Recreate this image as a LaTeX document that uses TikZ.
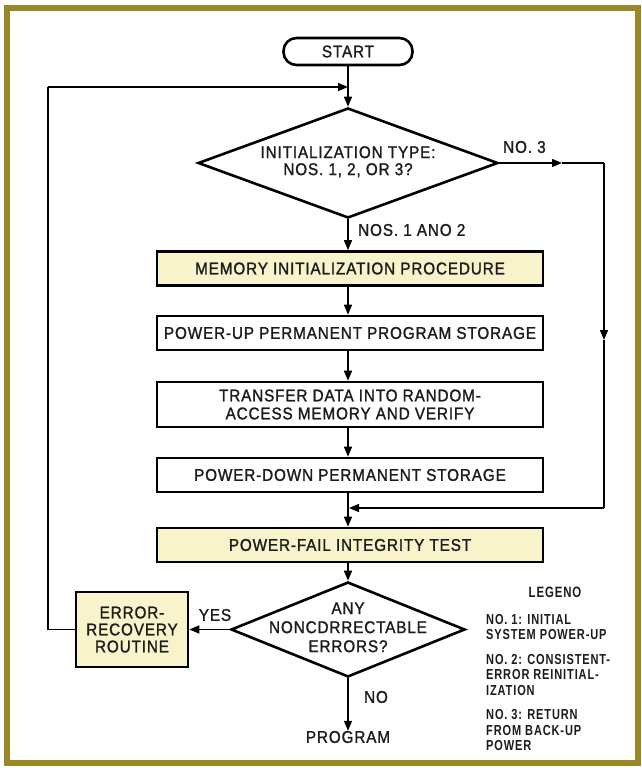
\documentclass[tikz,border=0pt]{standalone}
\usepackage{fontspec}
\setmainfont{Liberation Sans}[LetterSpace=5,FakeBold=1.3,FakeStretch=0.9]
\newfontfamily\legendfont{Liberation Sans Bold}[FakeStretch=0.76,LetterSpace=6]
\usetikzlibrary{arrows.meta,shapes.geometric}

\definecolor{frameolive}{RGB}{152,136,40}
\definecolor{boxyellow}{RGB}{248,243,202}
\definecolor{ink}{RGB}{28,28,28}

\begin{document}
\begin{tikzpicture}[x=1pt,y=-1pt,
  every node/.style={text=ink, font=\fontsize{17}{18}\selectfont},
  proc/.style={draw=black, line width=2.6pt, rectangle, fill=white,
    minimum width=386pt, minimum height=34pt, inner sep=0pt, align=center},
  hilite/.style={proc, fill=boxyellow},
  decision/.style={draw=black, line width=2.6pt, diamond, aspect=2.5,
    inner sep=0pt, fill=white},
  terminal/.style={draw=black, line width=2.6pt, rectangle, rounded corners=13pt,
    minimum width=129pt, minimum height=27pt, inner sep=0pt},
  flow/.style={draw=black, line width=1.4pt},
  tip/.style={-{Triangle[length=10pt,width=8pt]}},
  lbl/.style={inner sep=0pt},
  legend/.style={inner sep=0pt, align=left,
    font=\legendfont\fontsize{14.5}{15.5}\selectfont}
]
% page and frame
\useasboundingbox (0,0) rectangle (641,768);
\fill[white] (0,0) rectangle (641,768);
\draw[frameolive, line width=6pt] (7,8) rectangle (638,763);

% main column
\node[terminal] (start) at (348,51.5) {START};
\node[decision, minimum width=300pt, minimum height=110pt] (d1) at (348,163)
  {\makebox[0pt]{\begin{tabular}{@{}c@{}}INITIALIZATION TYPE:\\[-1pt] NOS. 1, 2, OR 3?\end{tabular}}};
\node[hilite] (mem) at (350,268.5) {MEMORY INITIALIZATION PROCEDURE};
\node[proc] (pup) at (350,333) {POWER-UP PERMANENT PROGRAM STORAGE};
\node[proc, minimum height=45pt] (xfer) at (350,404.5)
  {TRANSFER DATA INTO RANDOM-\\ACCESS MEMORY AND VERIFY};
\node[proc] (pdn) at (350,475) {POWER-DOWN PERMANENT STORAGE};
\node[hilite] (pft) at (350,545) {POWER-FAIL INTEGRITY TEST};
\node[decision, minimum width=234pt, minimum height=95pt] (d2) at (348,629.5)
  {\makebox[0pt]{\begin{tabular}{@{}c@{}}ANY\\[1pt] NONCDRRECTABLE\\[1pt] ERRORS?\end{tabular}}};
\node[hilite, minimum width=112pt, minimum height=75pt,
  font=\fontsize{17}{17}\selectfont] (err) at (132,629.5)
  {ERROR-\\RECOVERY\\ROUTINE};
\node[lbl] (prog) at (348,737) {PROGRAM};

% branch labels
\node[lbl, anchor=west] (lno3) at (503,147) {NO. 3};
\node[lbl, anchor=west] (l12) at (358,230) {NOS. 1 ANO 2};
\node[lbl] (lyes) at (215,615) {YES};
\node[lbl] (lno) at (376,697) {NO};

% legend
\node[lbl, font=\legendfont\fontsize{15}{15}\selectfont] (legt) at (555,592) {LEGENO};
\node[legend, anchor=west] (leg1) at (486,627) {NO. 1: INITIAL\\SYSTEM POWER-UP};
\node[legend, anchor=west] (leg2) at (486,674.5) {NO. 2: CONSISTENT-\\ERROR REINITIAL-\\IZATION};
\node[legend, anchor=west] (leg3) at (486,730) {NO. 3: RETURN\\FROM BACK-UP\\POWER};

% routing points
\coordinate (loopa) at (48,629.5);
\coordinate (loopb) at (48,87);
\coordinate (loopc) at (348,87);
\coordinate (ra) at (562,163);
\coordinate (rb) at (604,163);
\coordinate (rc) at (604,340);
\coordinate (rd) at (604,508);
\coordinate (re) at (349,508);

% main flow
\draw[flow,tip] (start.south) -- (d1.north);
\draw[flow,tip] (d1.south) -- (d1.south |- mem.north);
\draw[flow,tip] (mem.south -| d1.south) -- (d1.south |- pup.north);
\draw[flow,tip] (pup.south -| d1.south) -- (d1.south |- xfer.north);
\draw[flow,tip] (xfer.south -| d1.south) -- (d1.south |- pdn.north);
\draw[flow,tip] (pdn.south -| d1.south) -- (d1.south |- pft.north);
\draw[flow,tip] (pft.south -| d2.north) -- (d2.north);
\draw[flow,tip] (d2.south) -- (prog.north);
\draw[flow,tip] (d2.west) -- (err.east);

% return loop from error recovery
\draw[flow] (err.west) -- (loopa) -- (loopb);
\draw[flow,tip] (loopb) -- (loopc);

% bypass for type 3
\draw[flow,tip] (d1.east) -- (ra);
\draw[flow] (ra) -- (rb);
\draw[flow,tip] (rb) -- (rc);
\draw[flow] (rc) -- (rd);
\draw[flow,tip] (rd) -- (re);
\end{tikzpicture}
\end{document}
